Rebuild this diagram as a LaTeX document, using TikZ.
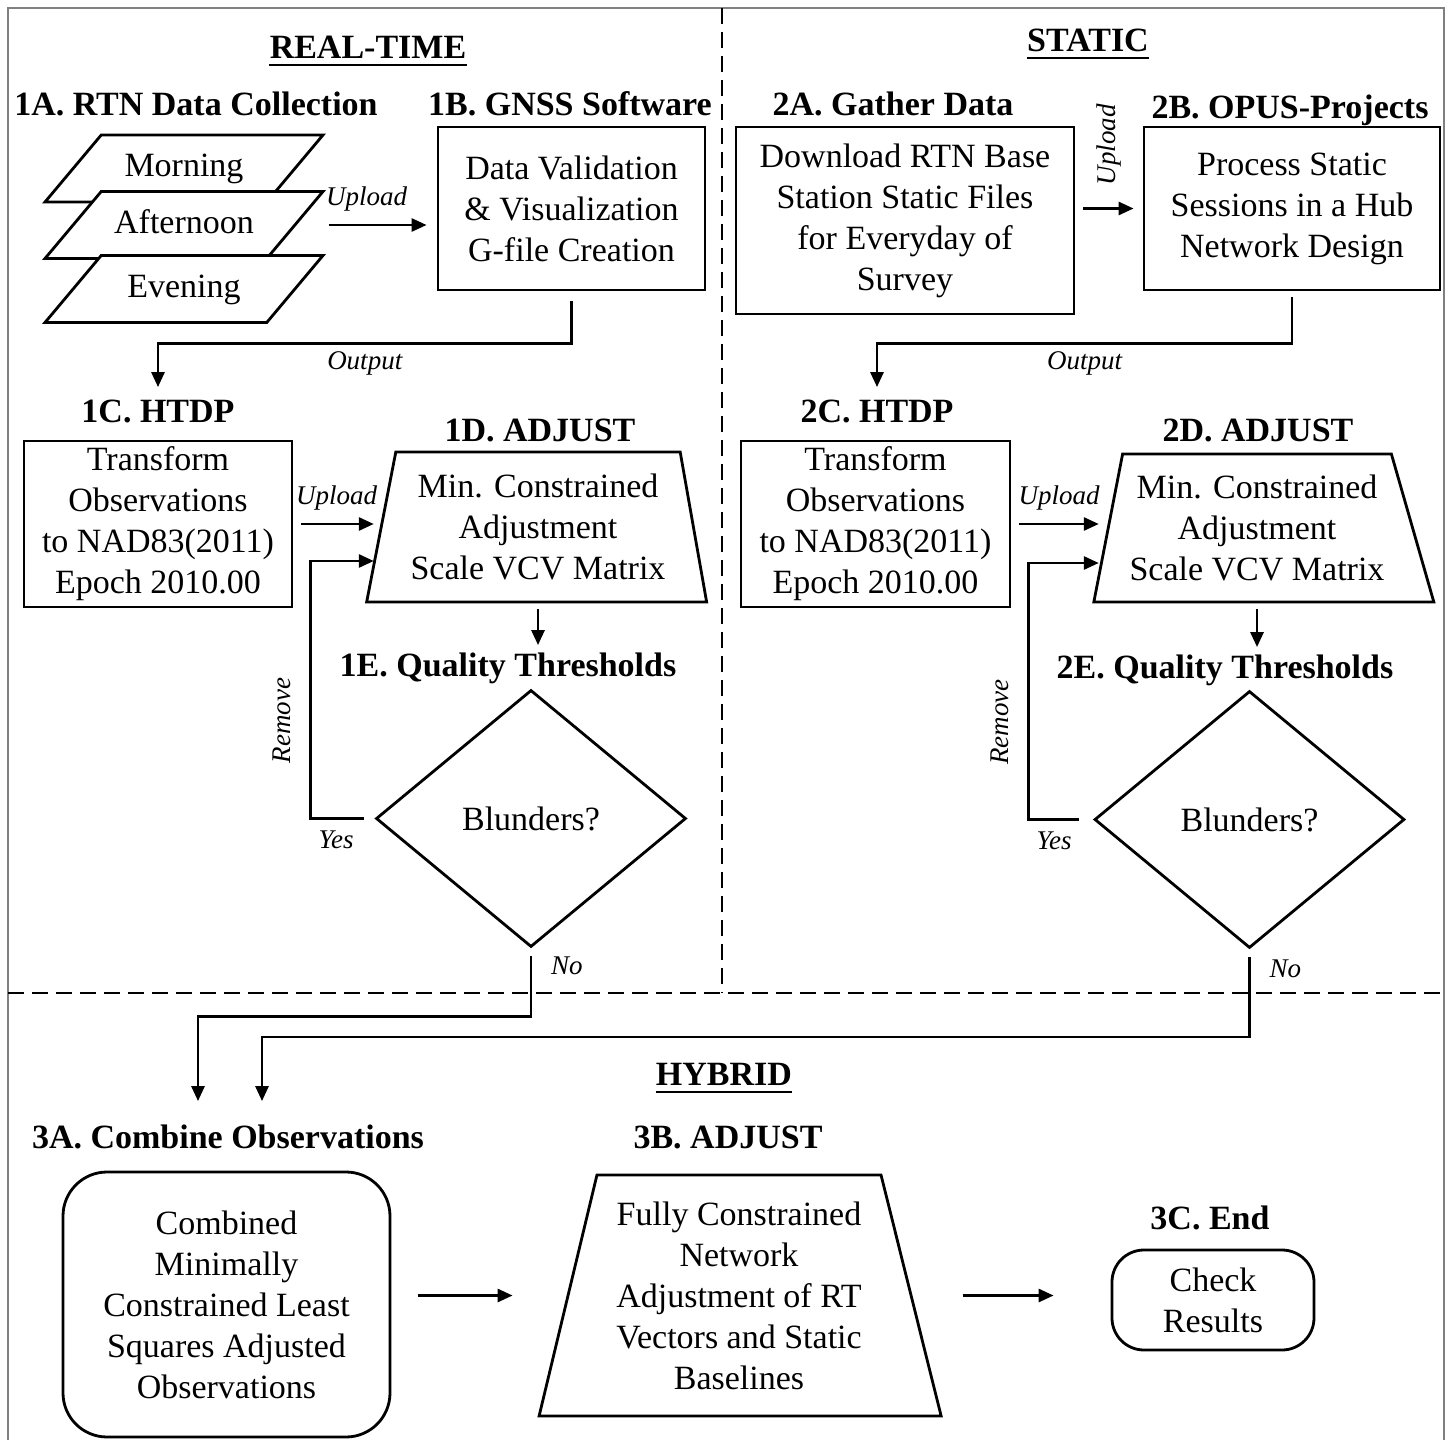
\documentclass[tikz,border=0pt]{standalone}
\usepackage{fontspec}
\setmainfont{Liberation Serif}
\usepackage{tikz}
\usetikzlibrary{arrows.meta,positioning,shapes.geometric}
\newcommand{\boxfont}{\fontsize{17}{20.5}\selectfont}
\newcommand{\lblfont}{\fontsize{13.5}{15}\selectfont\itshape}
\tikzset{
  box/.style={draw,line width=1.4pt,align=center,font=\boxfont,inner sep=0pt},
  para/.style={box,trapezium,trapezium left angle=50,trapezium right angle=130,trapezium stretches body=true,minimum width=139pt,text height=12pt,text depth=4pt,inner ysep=8.75pt,fill=white},
  trap/.style={box,trapezium,trapezium stretches body=true},
  dmd/.style={box,diamond,minimum width=155pt,minimum height=128.5pt},
  head/.style={font=\boxfont\bfseries,inner sep=0pt,text height=11.5pt,text depth=0pt},
  lbl/.style={font=\lblfont},
  arr/.style={-{Triangle[length=7.5pt,width=6.5pt]},line width=1.4pt},
  divider/.style={line width=1.1pt,dash pattern=on 8pt off 4pt}
}

\begin{document}
\begin{tikzpicture}[x=0.5pt,y=-0.5pt]
    \useasboundingbox (0,0) rectangle (1448,1440);
    % frame and section dividers
    \draw[gray,line width=1.4pt] (8,1440) -- (8,8) -- (1444,8) -- (1444,1440);
    \draw[divider] (722,8) -- (722,993);
    \draw[divider] (8,993) -- (1444,993);

    % section titles
    \node[head] (rt) at (368,47) {REAL-TIME};
    \node[head] (st) at (1088,40) {STATIC};
    \node[head] (hy) at (724,1074) {HYBRID};
    \foreach \n in {rt,st,hy}
        \draw[line width=1.4pt] ([yshift=-3pt]\n.south west) -- ([yshift=-3pt]\n.south east);

    % real-time branch
    \node[head] (h1a) at (196,104) {1A. RTN Data Collection};
    \node[head] (h1b) at (570,104) {1B. GNSS Software};
    \node[para] (morn) at (184,168.5) {Morning};
    \node[para] (aftn) at (184,225) {Afternoon};
    \node[para] (even) at (184,289) {Evening};
    \node[box,minimum width=133.5pt,minimum height=81.5pt] (b1) at (571.5,208.5) {Data Validation\\ \& Visualization\\ G-file Creation};
    \draw[arr,shorten <=16pt,shorten >=5pt] (aftn.east) -- node[lbl,above=3pt] {Upload} (aftn.east -| b1.west);

    \node[head] (h1c) at (158,411) {1C. HTDP};
    \draw[arr,shorten <=5pt,shorten >=6pt] (b1.south) -- ++(0,52) -| node[lbl,below,pos=0.25] {Output} (h1c.north);
    \node[box,minimum width=134pt,minimum height=83pt] (c1) at (158,524) {Transform\\ Observations\\ to NAD83(2011)\\ Epoch 2010.00};
    \node[head] (h1d) at (540,430) {1D. ADJUST};
    \node[trap,trapezium left angle=79,trapezium right angle=80,minimum width=170pt,inner ysep=11pt] (d1) at (538,527) {Min. Constrained\\ Adjustment\\ Scale VCV Matrix};
    \node[head] (h1e) at (508,665) {1E. Quality Thresholds};
    \node[dmd] (e1) at (531,818.5) {Blunders?};

    \draw[arr,shorten <=4pt,shorten >=3pt] (c1.east) -- node[lbl,above=3pt] {Upload} (c1.east -| d1.west);
    \draw[arr,shorten <=3pt,shorten >=4pt] (d1.south) -- (d1.south |- h1e.north);
    \draw[arr,shorten <=5.5pt,shorten >=3pt] (e1.west) -- node[lbl,below=2pt,pos=0.6] {Yes} ++(-64,0) |- node[lbl,pos=0.19,rotate=90,anchor=south,inner ysep=9pt] {Remove} ([yshift=-17pt]d1.west);

    % static branch
    \node[head] (h2a) at (893,104) {2A. Gather Data};
    \node[head] (h2b) at (1290,107) {2B. OPUS-Projects};
    \node[box,minimum width=169pt,minimum height=93.5pt] (a2) at (905,220.5) {Download RTN Base\\ Station Static Files\\ for Everyday of\\ Survey};
    \node[box,minimum width=148pt,minimum height=81.5pt] (b2) at (1292,208.5) {Process Static\\ Sessions in a Hub\\ Network Design};
    \draw[arr,shorten <=4pt,shorten >=4.5pt] (b2.west -| a2.east) -- node[lbl,rotate=90,anchor=west,inner sep=11pt] {Upload} (b2.west);

    \node[head] (h2c) at (877,411) {2C. HTDP};
    \draw[arr,shorten <=3pt,shorten >=6pt] (b2.south) -- ++(0,52) -| node[lbl,below,pos=0.25] {Output} (h2c.north);
    \node[box,minimum width=134.5pt,minimum height=83pt] (c2) at (875.5,524) {Transform\\ Observations\\ to NAD83(2011)\\ Epoch 2010.00};
    \node[head] (h2d) at (1258,430) {2D. ADJUST};
    \node[trap,trapezium left angle=79,trapezium right angle=74,minimum width=170pt,inner ysep=10.5pt] (d2) at (1257,528) {Min. Constrained\\ Adjustment\\ Scale VCV Matrix};
    \node[head] (h2e) at (1225,667) {2E. Quality Thresholds};
    \node[dmd] (e2) at (1249.5,819.5) {Blunders?};

    \draw[arr,shorten <=4pt,shorten >=4pt] (c2.east) -- node[lbl,above=3pt] {Upload} (c2.east -| d2.west);
    \draw[arr,shorten <=3pt,shorten >=4pt] (d2.south) -- (d2.south |- h2e.north);
    \draw[arr,shorten <=7pt,shorten >=4pt] (e2.west) -- node[lbl,below=2pt,pos=0.6] {Yes} ++(-65,0) |- node[lbl,pos=0.19,rotate=90,anchor=south,inner ysep=9pt] {Remove} ([yshift=-17.5pt]d2.west);

    % hybrid
    \node[head] (h3a) at (228,1137) {3A. Combine Observations};
    \node[head] (h3b) at (728,1137) {3B. ADJUST};
    \node[head] (h3c) at (1210,1218) {3C. End};
    \draw[arr,shorten <=4pt,shorten >=12pt] (e1.south) -- node[lbl,right=6pt,pos=0.26] {No} ++(0,68) -| ([xshift=-15pt]h3a.north);
    \draw[arr,shorten <=4pt,shorten >=12pt] (e2.south) -- node[lbl,right=6pt,pos=0.22] {No} ++(0,87.5) -| ([xshift=17pt]h3a.north);
    \node[box,rounded corners=22pt,minimum width=163.5pt,minimum height=132.5pt] (a3) at (226.5,1304.5) {Combined\\ Minimally\\ Constrained Least\\ Squares Adjusted\\ Observations};
    \node[trap,trapezium left angle=76.5,trapezium right angle=76,minimum width=201pt,inner ysep=13.25pt] (b3) at (739,1295.5) {Fully Constrained\\ Network\\ Adjustment of RT\\ Vectors and Static\\ Baselines};
    \node[box,rounded corners=16pt,minimum width=101pt,minimum height=50pt] (c3) at (1213,1300) {Check\\ Results};
    \draw[arr,shorten <=13.5pt,shorten >=27pt] (b3.west -| a3.east) -- (b3.west);
    \draw[arr,shorten <=25pt,shorten >=28.5pt] (b3.east) -- (b3.east -| c3.west);
\end{tikzpicture}
\end{document}
